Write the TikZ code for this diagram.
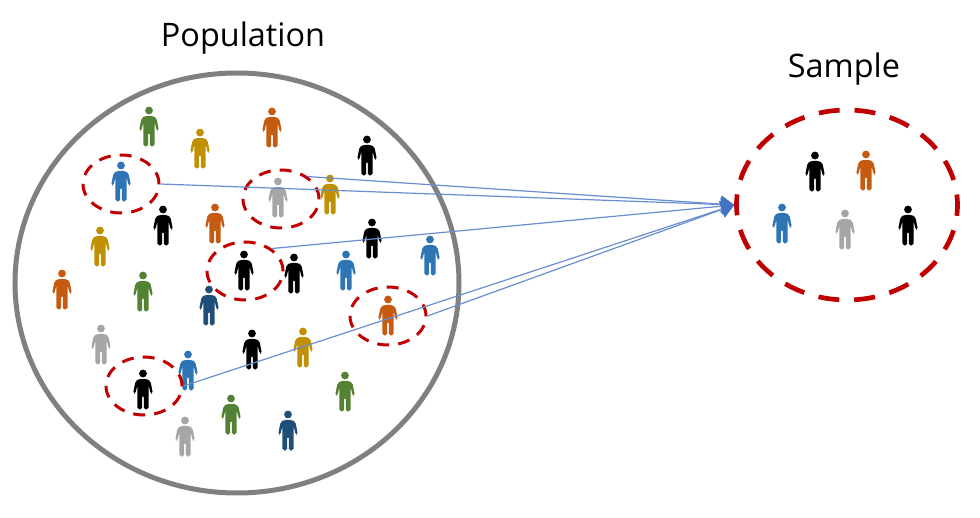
\documentclass[tikz,border=0pt]{standalone}
\usepackage{fontspec}
\setmainfont{Open Sans}
\usetikzlibrary{shapes.geometric,arrows.meta}
\definecolor{pgreen}{HTML}{548235}
\definecolor{pgold}{HTML}{BF9000}
\definecolor{porange}{HTML}{C55A11}
\definecolor{pblue}{HTML}{2E75B6}
\definecolor{pnavy}{HTML}{1F4E79}
\definecolor{pgray}{HTML}{A6A6A6}
\definecolor{dashred}{HTML}{C00000}
\definecolor{ringgray}{HTML}{808080}
\definecolor{linkblue}{HTML}{4472C4}
\tikzset{
  person/.pic={
    \fill[pic actions] (0,-15.5) circle (3.9);
    \fill[pic actions,rounded corners=1.8pt]
      (-4.2,-10) -- (4.2,-10) -- (7.4,-8) -- (9.9,4.3) -- (7.7,4.9) -- (5.6,-4)
      -- (5.5,20.5) -- (0.9,20.5) -- (0.9,6.5) -- (-0.9,6.5) -- (-0.9,20.5) -- (-5.5,20.5)
      -- (-5.6,-4) -- (-7.7,4.9) -- (-9.9,4.3) -- (-7.4,-8) -- cycle;
  },
  bigring/.style={draw=ringgray,line width=5pt,ellipse,inner sep=0pt,minimum width=444pt,minimum height=420pt},
  pick/.style={draw=dashred,line width=3pt,ellipse,inner sep=0pt,dash pattern=on 12pt off 9.1pt,minimum width=76pt,minimum height=58pt},
  samplering/.style={draw=dashred,line width=4.7pt,ellipse,inner sep=0pt,dash pattern=on 21pt off 14.9pt,dash phase=10.5pt,minimum width=221pt,minimum height=190pt},
  link/.style={draw=linkblue!80,line width=1.2pt,-{Triangle[length=13pt,width=17pt,color=linkblue,fill=linkblue]}},
  title/.style={font=\fontsize{32.4}{36}\selectfont,text=black,inner sep=0pt}
}
\begin{document}
\begin{tikzpicture}[x=1pt,y=-1pt]
\useasboundingbox (0,0) rectangle (980,518);
\node[title] (poptitle) at (243,38) {Population};
\node[title] (samtitle) at (844,69) {Sample};
\node[bigring] (pop) at (237,283) {};
\node[samplering] (sam) at (847,205) {};
\pic[fill=pgreen] at (149,126) {person};
\pic[fill=pgold] at (200,148) {person};
\pic[fill=porange] at (272,127) {person};
\pic[fill=black] at (367,155) {person};
\pic[fill=pblue] at (121,181) {person};
\pic[fill=pgray] at (278,197) {person};
\pic[fill=pgold] at (330,194) {person};
\pic[fill=black] at (163,225) {person};
\pic[fill=porange] at (215,223) {person};
\pic[fill=pgold] at (100,246) {person};
\pic[fill=black] at (372,238) {person};
\pic[fill=pblue] at (430,255) {person};
\pic[fill=porange] at (62,289) {person};
\pic[fill=pgreen] at (143,291) {person};
\pic[fill=black] at (244,270) {person};
\pic[fill=black] at (294,273) {person};
\pic[fill=pblue] at (346,270) {person};
\pic[fill=pnavy] at (209,305) {person};
\pic[fill=porange] at (388,315) {person};
\pic[fill=pgray] at (101,344) {person};
\pic[fill=black] at (252,349) {person};
\pic[fill=pgold] at (303,347) {person};
\pic[fill=pblue] at (188,370) {person};
\pic[fill=black] at (143,389) {person};
\pic[fill=pgreen] at (345,391) {person};
\pic[fill=pgreen] at (231,414) {person};
\pic[fill=pnavy] at (288,430) {person};
\pic[fill=pgray] at (185,436) {person};
\pic[fill=black] at (815,171) {person};
\pic[fill=porange] at (866,170) {person};
\pic[fill=pblue] at (782,223) {person};
\pic[fill=pgray] at (845,229) {person};
\pic[fill=black] at (908,225) {person};
\node[pick] (p1) at (121,184) {};
\node[pick] (p2) at (281,199) {};
\node[pick] (p3) at (245,271) {};
\node[pick] (p4) at (388,316) {};
\node[pick] (p5) at (144,386) {};
\draw[link] (p1.east) -- (sam.west);
\draw[link] (p2.40) -- (sam.west);
\draw[link] (p3.40) -- (sam.west);
\draw[link] (p4.east) -- (sam.west);
\draw[link] (p5.east) -- (sam.west);
\end{tikzpicture}
\end{document}
